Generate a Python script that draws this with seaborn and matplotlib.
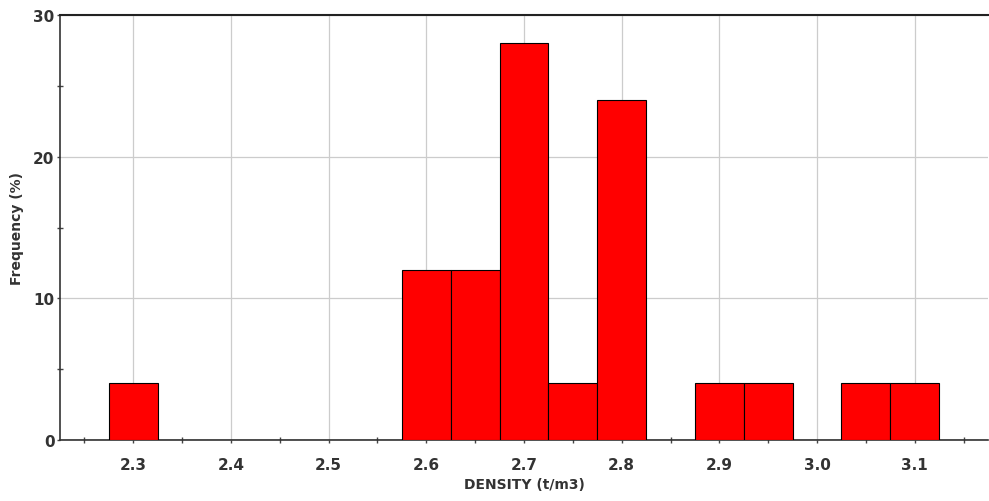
import matplotlib
matplotlib.use("Agg")
import matplotlib.pyplot as plt
import pandas as pd
import seaborn as sns
from matplotlib.ticker import MultipleLocator

# bin centres (t/m3) and frequency (%)
density = [2.30, 2.60, 2.65, 2.70, 2.75, 2.80, 2.90, 2.95, 3.05, 3.10]
frequency = [4, 12, 12, 28, 4, 24, 4, 4, 4, 4]
bin_edges = [round(2.225 + 0.05 * i, 3) for i in range(20)]

df = pd.DataFrame({"density": density, "frequency": frequency})

sns.set_style("white")
plt.rcParams["font.family"] = ["DejaVu Sans"]

fig = plt.figure(figsize=(9.89, 5.02), dpi=100)
ax = fig.add_axes([60 / 989, 1 - 441 / 502, 928 / 989, 425 / 502])

sns.histplot(data=df, x="density", weights="frequency", bins=bin_edges, ax=ax,
             color="#ff0000", alpha=1, edgecolor="black", linewidth=0.8,
             zorder=3)

ax.set_xlim(2.225, 3.175)
ax.set_ylim(0, 30)
ax.xaxis.set_major_locator(MultipleLocator(0.1))
ax.xaxis.set_minor_locator(MultipleLocator(0.05))
ax.yaxis.set_major_locator(MultipleLocator(10))
ax.yaxis.set_minor_locator(MultipleLocator(5))
ax.xaxis.set_major_formatter(plt.FuncFormatter(lambda v, p: f"{v:.1f}"))

ax.grid(True, which="major", color="#cccccc", linewidth=0.9, zorder=0)
ax.set_axisbelow(True)

for side in ["left", "bottom"]:
    ax.spines[side].set_color("#333333")
    ax.spines[side].set_linewidth(1.2)
ax.spines["top"].set_color("#222222")
ax.spines["top"].set_linewidth(1.5)
ax.spines["right"].set_visible(False)

ax.tick_params(which="both", bottom=True, left=True, top=False, right=False,
               color="#444444", labelcolor="#333333", width=1)
ax.tick_params(which="major", direction="out", length=2.5, labelsize=11)
ax.tick_params(which="minor", direction="inout", length=5)
ax.tick_params(axis="x", which="major", pad=10)
ax.tick_params(axis="y", which="major", pad=1.5)
for lbl in ax.get_xticklabels() + ax.get_yticklabels():
    lbl.set_fontweight("bold")

ax.set_xlabel("DENSITY (t/m3)", fontsize=10, fontweight="bold", color="#333333")
ax.set_ylabel("Frequency (%)", fontsize=10, fontweight="bold", color="#333333")
ax.xaxis.set_label_coords(0.5, -0.1035)
ax.yaxis.set_label_coords(-0.0463, 0.5)
ax.xaxis.label.set_va("center")
ax.yaxis.label.set_va("center")

fig.savefig("out.png", dpi=100)
